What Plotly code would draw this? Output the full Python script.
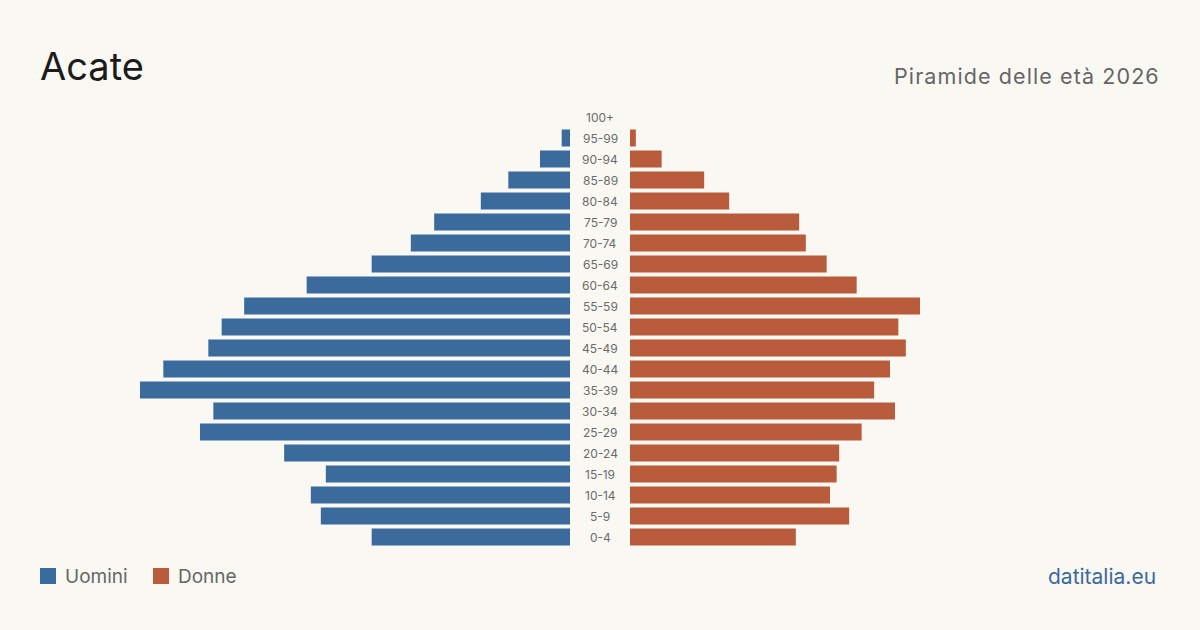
import plotly.graph_objects as go

W, H = 1200, 630

age_groups = ["100+", "95-99", "90-94", "85-89", "80-84", "75-79", "70-74", "65-69",
              "60-64", "55-59", "50-54", "45-49", "40-44", "35-39", "30-34", "25-29",
              "20-24", "15-19", "10-14", "5-9", "0-4"]
men = [0, 10, 36, 74, 107, 163, 191, 238, 316, 391, 418, 434, 488, 516, 428, 444,
       343, 293, 311, 299, 238]
women = [0, 7, 38, 89, 119, 203, 211, 236, 272, 348, 322, 331, 312, 293, 318, 278,
         251, 248, 240, 263, 199]

title = "Acate"
subtitle = "Piramide delle età 2026"
source = "datitalia.eu"
legend_names = ["Uomini", "Donne"]

BLUE = "#3b6a9c"
ORANGE = "#b85c3c"
BG = "#f9f8f3"
FONT = "Inter, 'Open Sans', sans-serif"

vmax = max(max(men), max(women))

fig = go.Figure()
fig.add_trace(go.Bar(y=age_groups, x=men, orientation="h", marker_color=BLUE,
                     marker_line_width=0,
                     xaxis="x", yaxis="y", name=legend_names[0], showlegend=False,
                     hovertemplate="%{y}: %{x}<extra>Uomini</extra>"))
fig.add_trace(go.Bar(y=age_groups, x=women, orientation="h", marker_color=ORANGE,
                     marker_line_width=0,
                     xaxis="x2", yaxis="y", name=legend_names[1], showlegend=False,
                     hovertemplate="%{y}: %{x}<extra>Donne</extra>"))

row_top = 106.5
row_bot = 547.5
ydom = [1 - row_bot / H, 1 - row_top / H]

annotations = []
for g in age_groups:
    annotations.append(dict(x=0.5, xref="paper", y=g, yref="y", text=g, showarrow=False,
                            font=dict(family=FONT, size=12, color="#6b6b6b"),
                            xanchor="center", yanchor="middle"))

annotations += [
    dict(x=38 / W, y=1 - 66 / H, xref="paper", yref="paper", text=title, showarrow=False,
         xanchor="left", yanchor="middle", font=dict(family=FONT, size=38, color="#1c1c1c")),
    dict(x=1162 / W, y=1 - 76 / H, xref="paper", yref="paper",
         text='<span style="letter-spacing:1.1px">' + subtitle + '</span>', showarrow=False,
         xanchor="right", yanchor="middle", font=dict(family=FONT, size=21.5, color="#666666")),
    dict(x=63 / W, y=1 - 576 / H, xref="paper", yref="paper", text=legend_names[0], showarrow=False,
         xanchor="left", yanchor="middle", font=dict(family=FONT, size=19, color="#666666")),
    dict(x=176 / W, y=1 - 576 / H, xref="paper", yref="paper", text=legend_names[1], showarrow=False,
         xanchor="left", yanchor="middle", font=dict(family=FONT, size=19, color="#666666")),
    dict(x=1158 / W, y=1 - 576 / H, xref="paper", yref="paper", text=source, showarrow=False,
         xanchor="right", yanchor="middle", font=dict(family=FONT, size=21, color=BLUE)),
]

shapes = [
    dict(type="rect", xref="paper", yref="paper", x0=40 / W, x1=56 / W,
         y0=1 - 584 / H, y1=1 - 568 / H, fillcolor=BLUE, line_width=0),
    dict(type="rect", xref="paper", yref="paper", x0=153 / W, x1=169 / W,
         y0=1 - 584 / H, y1=1 - 568 / H, fillcolor=ORANGE, line_width=0),
]

fig.update_layout(
    width=W, height=H, margin=dict(l=0, r=0, t=0, b=0),
    paper_bgcolor=BG, plot_bgcolor=BG,
    bargap=0.19,
    xaxis=dict(domain=[140 / W, 570 / W], range=[vmax, 0], visible=False, fixedrange=True),
    xaxis2=dict(domain=[630 / W, 1060 / W], range=[0, vmax], visible=False, fixedrange=True),
    yaxis=dict(domain=ydom, categoryorder="array", categoryarray=age_groups[::-1],
               range=[-0.5, len(age_groups) - 0.5], visible=False, fixedrange=True),
    annotations=annotations, shapes=shapes,
    font=dict(family=FONT),
)

fig.write_html("out.html")
